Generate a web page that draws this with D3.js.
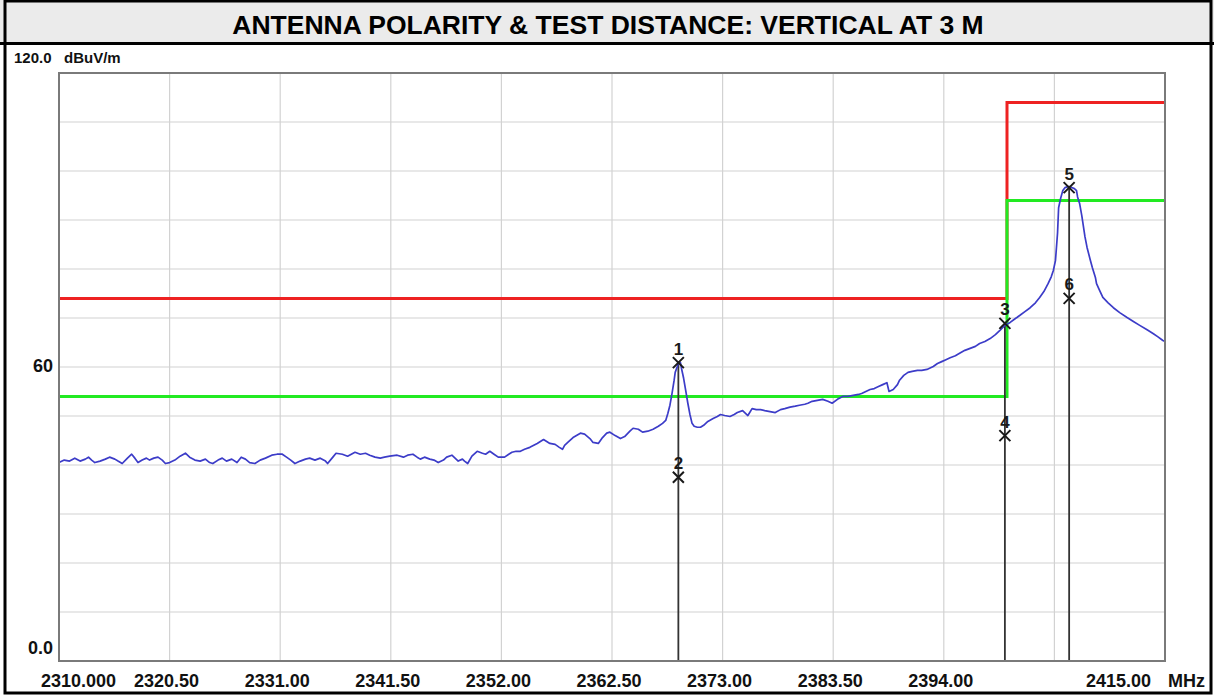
<!DOCTYPE html>
<html>
<head>
<meta charset="utf-8">
<script src="https://cdn.jsdelivr.net/npm/d3@7"></script>
<style>
  body { margin: 0; background: #fff; }
  svg { display: block; }
</style>
</head>
<body>
<div id="chart"></div>
<script>
// radiated emission scan, band edge 2400 MHz, vertical antenna at 3 m
const chartTitle = "ANTENNA POLARITY & TEST DISTANCE: VERTICAL AT 3 M";

const freqs = [
  2310.0, 2310.5, 2311.0, 2311.5, 2312.0, 2312.5, 2312.8, 2313.1, 2313.4, 2313.9,
  2314.4, 2314.8, 2315.3, 2315.6, 2316.0, 2316.5, 2316.9, 2317.2, 2317.5, 2317.9,
  2318.3, 2318.6, 2319.0, 2319.4, 2319.8, 2320.1, 2320.5, 2321.0, 2321.5, 2322.0,
  2322.4, 2322.9, 2323.4, 2323.9, 2324.3, 2324.6, 2325.1, 2325.5, 2325.9, 2326.4,
  2326.9, 2327.3, 2327.7, 2328.1, 2328.6, 2329.1, 2329.6, 2330.2, 2330.7, 2331.2,
  2331.6, 2332.0, 2332.4, 2332.9, 2333.4, 2333.8, 2334.3, 2334.8, 2335.3, 2335.5,
  2336.0, 2336.3, 2336.9, 2337.4, 2338.1, 2338.6, 2339.1, 2339.5, 2340.0, 2340.5,
  2340.9, 2341.4, 2342.1, 2342.7, 2343.1, 2343.6, 2344.0, 2344.3, 2344.7, 2345.2,
  2345.6, 2346.0, 2346.5, 2346.8, 2347.3, 2347.7, 2347.9, 2348.3, 2348.5, 2348.8,
  2349.2, 2349.7, 2350.2, 2350.5, 2350.9, 2351.3, 2351.7, 2352.3, 2352.7, 2353.0,
  2353.4, 2353.8, 2354.2, 2354.7, 2355.4, 2356.0, 2356.3, 2356.6, 2357.1, 2357.5,
  2357.8, 2358.0, 2358.3, 2358.8, 2359.5, 2359.9, 2360.4, 2360.7, 2361.2, 2361.6,
  2362.0, 2362.3, 2362.8, 2363.3, 2363.7, 2364.2, 2364.5, 2365.0, 2365.4, 2365.9,
  2366.4, 2366.9, 2367.3, 2367.6, 2367.8, 2368.0, 2368.2, 2368.4, 2368.5, 2368.7,
  2368.8, 2369.0, 2369.1, 2369.3, 2369.5, 2369.7, 2369.9, 2370.1, 2370.3, 2370.6,
  2370.9, 2371.2, 2371.6, 2372.1, 2372.5, 2372.8, 2373.2, 2373.7, 2374.1, 2374.4,
  2374.9, 2375.4, 2375.8, 2376.2, 2376.6, 2377.0, 2377.5, 2378.0, 2378.5, 2378.9,
  2379.4, 2379.9, 2380.3, 2380.8, 2381.1, 2381.5, 2382.0, 2382.5, 2383.0, 2383.4,
  2383.9, 2384.4, 2384.9, 2385.4, 2385.9, 2386.2, 2386.6, 2387.0, 2387.4, 2387.8,
  2388.2, 2388.6, 2388.8, 2389.2, 2389.6, 2389.8, 2390.2, 2390.6, 2391.0, 2391.5,
  2391.9, 2392.4, 2393.0, 2393.4, 2393.8, 2394.2, 2394.6, 2395.1, 2395.5, 2396.0,
  2396.5, 2397.0, 2397.4, 2397.9, 2398.4, 2398.9, 2399.3, 2399.8, 2400.3, 2400.8,
  2401.2, 2401.7, 2402.2, 2402.7, 2403.1, 2403.5, 2403.9, 2404.2, 2404.4, 2404.6,
  2404.8, 2404.9, 2405.1, 2405.3, 2405.5, 2405.8, 2406.0, 2406.2, 2406.4, 2406.6,
  2406.7, 2406.9, 2407.1, 2407.4, 2407.6, 2407.9, 2408.1, 2408.4, 2408.5, 2408.8,
  2409.1, 2409.6, 2410.1, 2410.7, 2411.4, 2412.0, 2412.6, 2413.3, 2413.9, 2414.3,
  2414.8, 2415.0
];

const levels = [
  40.5, 41.0, 40.8, 41.4, 40.8, 41.2, 41.6, 41.0, 40.5, 40.8,
  41.2, 41.6, 41.2, 40.8, 40.3, 41.4, 42.2, 41.4, 40.5, 41.0,
  41.4, 41.0, 41.4, 41.6, 41.0, 40.3, 40.5, 41.0, 41.8, 42.4,
  41.6, 41.0, 40.8, 41.2, 40.5, 40.3, 41.0, 41.4, 40.8, 41.2,
  40.5, 41.6, 41.2, 40.5, 40.3, 41.0, 41.4, 42.0, 42.2, 42.2,
  41.6, 41.0, 40.3, 40.8, 41.2, 41.4, 41.0, 41.4, 40.8, 40.3,
  41.6, 42.4, 42.2, 41.8, 42.6, 42.2, 42.4, 42.0, 41.6, 41.4,
  41.6, 41.8, 42.0, 41.6, 42.0, 42.2, 41.6, 41.2, 41.6, 41.2,
  41.0, 40.5, 41.0, 41.6, 42.0, 41.2, 40.8, 41.2, 40.8, 40.3,
  41.8, 42.8, 42.4, 42.2, 42.8, 42.2, 41.6, 41.6, 42.2, 42.6,
  42.8, 42.8, 43.2, 43.6, 44.4, 45.2, 44.8, 44.4, 44.2, 43.6,
  43.2, 44.0, 44.6, 45.6, 46.5, 46.3, 45.4, 44.6, 44.4, 45.6,
  46.5, 46.7, 46.0, 45.4, 45.8, 46.9, 47.5, 47.3, 46.7, 46.9,
  47.3, 47.9, 48.5, 49.1, 50.5, 52.2, 54.6, 57.3, 58.9, 60.1,
  60.9, 60.9, 59.7, 57.7, 55.2, 52.6, 50.3, 48.5, 47.9, 47.7,
  47.7, 48.1, 48.9, 49.5, 49.9, 50.3, 50.1, 49.9, 50.3, 50.7,
  51.1, 50.1, 51.5, 51.3, 51.3, 51.1, 50.9, 50.7, 51.3, 51.5,
  51.8, 52.0, 52.2, 52.4, 52.6, 53.0, 53.2, 53.4, 53.0, 52.6,
  53.4, 54.0, 54.0, 54.2, 54.4, 54.6, 55.0, 55.4, 55.6, 56.0,
  56.4, 56.8, 55.0, 55.4, 56.4, 57.3, 58.3, 58.9, 59.1, 59.3,
  59.3, 59.5, 60.1, 60.7, 61.1, 61.5, 61.9, 62.3, 62.8, 63.4,
  63.8, 64.2, 64.8, 65.2, 65.8, 66.6, 67.4, 68.5, 69.1, 69.9,
  70.5, 71.3, 72.1, 73.1, 74.2, 75.4, 77.0, 78.4, 79.7, 81.7,
  87.4, 92.5, 94.5, 96.0, 96.6, 96.8, 96.8, 96.6, 96.4, 96.0,
  94.7, 93.3, 90.9, 86.6, 84.4, 81.9, 80.3, 78.2, 77.0, 75.6,
  74.2, 73.1, 72.1, 71.1, 70.1, 69.3, 68.5, 67.6, 66.8, 66.2,
  65.4, 65.2
];

// limit lines (step at the 2400 MHz band edge)
const limitFreqs = [2310, 2400, 2400, 2415];
const peakLimit = [74, 74, 114, 114];
const avgLimit = [54, 54, 94, 94];

// markers: odd = peak reading, even = average reading at same frequency
const markerIds = ["1", "2", "3", "4", "5", "6"];
const markerFreqs = [2368.8, 2368.8, 2399.8, 2399.8, 2405.9, 2405.9];
const markerLevels = [60.9, 37.5, 68.9, 46.0, 96.6, 74.0];

const xTicks = [2310, 2320.5, 2331, 2341.5, 2352, 2362.5, 2373, 2383.5, 2394, 2404.5, 2415];
const xTickLabels = ["2310.000", "2320.50", "2331.00", "2341.50", "2352.00", "2362.50",
  "2373.00", "2383.50", "2394.00", "", "2415.00"];
const yTicks = [0, 10, 20, 30, 40, 50, 60, 70, 80, 90, 100, 110, 120];

const W = 1214, H = 696;
const plot = { left: 59, right: 1165, top: 73, bottom: 661 };

const x = d3.scaleLinear().domain([2310, 2415]).range([plot.left, plot.right]);
const y = d3.scaleLinear().domain([0, 120]).range([plot.bottom, plot.top]);

const svg = d3.select("#chart").append("svg")
  .attr("width", W)
  .attr("height", H)
  .style("font-family", "'Liberation Sans', Arial, sans-serif");

// title bar
svg.append("rect").attr("x", 0).attr("y", 0).attr("width", W).attr("height", 43).attr("fill", "#ebebeb");
svg.append("text")
  .attr("x", 608).attr("y", 34)
  .attr("text-anchor", "middle")
  .attr("font-size", 26.5).attr("font-weight", "bold")
  .text(chartTitle);
svg.append("line").attr("x1", 0).attr("x2", W).attr("y1", 43.5).attr("y2", 43.5)
  .attr("stroke", "#000").attr("stroke-width", 3);

// outer frame
svg.append("rect").attr("x", 5).attr("y", 1).attr("width", W - 8).attr("height", H - 4)
  .attr("fill", "none").attr("stroke", "#000").attr("stroke-width", 3);

// grid
const grid = svg.append("g").attr("stroke", "#d2d2d2").attr("stroke-width", 1.2);
grid.selectAll("line.v").data(xTicks.slice(1, -1)).join("line")
  .attr("x1", d => x(d)).attr("x2", d => x(d))
  .attr("y1", plot.top).attr("y2", plot.bottom);
grid.selectAll("line.h").data(yTicks.slice(1, -1)).join("line")
  .attr("x1", plot.left).attr("x2", plot.right)
  .attr("y1", d => y(d)).attr("y2", d => y(d));

svg.append("defs").append("clipPath").attr("id", "clip")
  .append("rect").attr("x", plot.left).attr("y", plot.top)
  .attr("width", plot.right - plot.left).attr("height", plot.bottom - plot.top);

const body = svg.append("g").attr("clip-path", "url(#clip)");

const limitLine = d3.line().x(d => x(d[0])).y(d => y(d[1]));
body.append("path")
  .attr("d", limitLine(d3.zip(limitFreqs, peakLimit)))
  .attr("fill", "none").attr("stroke", "#ee2222").attr("stroke-width", 3);
body.append("path")
  .attr("d", limitLine(d3.zip(limitFreqs, avgLimit)))
  .attr("fill", "none").attr("stroke", "#22ea22").attr("stroke-width", 3);

// marker drop lines
const markerData = markerIds.map((id, i) => ({ id, f: markerFreqs[i], v: markerLevels[i] }));
body.selectAll("line.drop").data(markerData.filter((d, i) => i % 2 === 0)).join("line")
  .attr("x1", d => x(d.f)).attr("x2", d => x(d.f))
  .attr("y1", d => y(d.v)).attr("y2", plot.bottom)
  .attr("stroke", "#333").attr("stroke-width", 1.8);

// trace
const trace = d3.line().x(d => x(d[0])).y(d => y(d[1]));
body.append("path")
  .attr("d", trace(d3.zip(freqs, levels)))
  .attr("fill", "none").attr("stroke", "#3c3cc8").attr("stroke-width", 1.7)
  .attr("stroke-linejoin", "round");

// markers
const mk = svg.append("g");
const crosses = mk.selectAll("g").data(markerData).join("g")
  .attr("transform", d => `translate(${x(d.f)},${y(d.v)})`);
crosses.append("path")
  .attr("d", "M-5.5,-5.5L5.5,5.5M5.5,-5.5L-5.5,5.5")
  .attr("stroke", "#1a1a1a").attr("stroke-width", 2);
crosses.append("text")
  .attr("y", -8)
  .attr("text-anchor", "middle")
  .attr("font-size", 17).attr("font-weight", "bold").attr("fill", "#1a1a1a")
  .text(d => d.id);

// plot frame
svg.append("rect")
  .attr("x", plot.left).attr("y", plot.top)
  .attr("width", plot.right - plot.left).attr("height", plot.bottom - plot.top)
  .attr("fill", "none").attr("stroke", "#7a7a7a").attr("stroke-width", 2);

// axis labels
const lbl = svg.append("g").attr("font-size", 18).attr("font-weight", "bold").attr("fill", "#111");
lbl.selectAll("text.xt").data(xTicks).join("text")
  .attr("x", (d, i) => i === 0 ? x(d) - 18 : (i === xTicks.length - 1 ? x(d) - 14 : x(d) - 3))
  .attr("y", 687)
  .attr("text-anchor", (d, i) => i === 0 ? "start" : (i === xTicks.length - 1 ? "end" : "middle"))
  .text((d, i) => xTickLabels[i]);
lbl.append("text").attr("x", 1205).attr("y", 687).attr("text-anchor", "end").text("MHz");

lbl.append("text").attr("x", 14).attr("y", 63).attr("font-size", 15).text(y.domain()[1].toFixed(1));
lbl.append("text").attr("x", 64).attr("y", 63).attr("font-size", 15).text("dBuV/m");
lbl.append("text").attr("x", 53).attr("y", y(60) + 5).attr("text-anchor", "end").text("60");
lbl.append("text").attr("x", 53).attr("y", y(0) - 7).attr("text-anchor", "end").text(y.domain()[0].toFixed(1));
</script>
</body>
</html>
